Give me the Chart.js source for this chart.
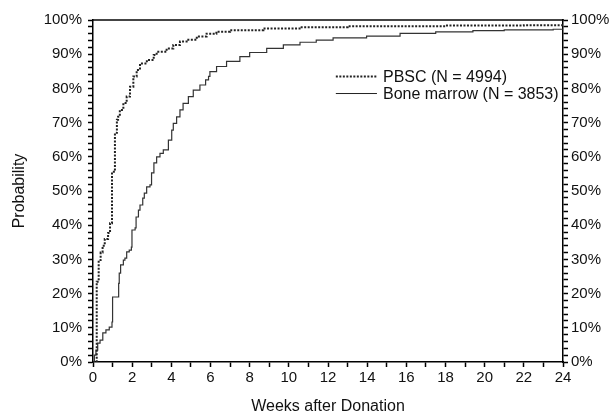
<!DOCTYPE html>
<html>
<head>
<meta charset="utf-8">
<script src="https://cdn.jsdelivr.net/npm/chart.js@4/dist/chart.umd.min.js"></script>
<style>
    html, body { margin: 0; padding: 0; background: #fff; }
    #wrap { width: 614px; height: 417px; }
</style>
</head>
<body>
<div id="wrap"><canvas id="probChart" width="614" height="417"></canvas></div>
<script>
// step points: week where the curve jumps, and the new level (%)
const pbscWeeks = [0, 0.19, 0.29, 0.39, 0.49, 0.6, 0.77, 0.87, 0.97, 1.12, 1.22, 1.28, 1.37, 1.55, 1.72, 1.89,
    2.06, 2.23, 2.4, 2.75, 3.1, 3.25, 3.76, 4.1, 4.44, 4.78, 5.3, 5.8, 6.3, 7.0, 8.7, 10.6, 13.0, 18.0, 22.0, 24];
const pbscPct = [0, 23.5, 29.8, 32, 34, 36, 37.7, 40.6, 55.6, 67, 70.8, 71.7, 73.7, 75.7, 77.6, 80.5,
    83.5, 85.4, 87.3, 88.3, 89.8, 90.7, 91.7, 92.7, 93.7, 94.2, 95.2, 96, 96.6, 97.0, 97.5, 97.9, 98.2, 98.4, 98.5, 98.5];

const marrowWeeks = [0, 0.07, 0.15, 0.24, 0.36, 0.5, 0.66, 0.83, 0.97, 1.0, 1.31, 1.34, 1.41, 1.55, 1.63, 1.72, 1.85,
    1.96, 1.99, 2.15, 2.2, 2.32, 2.4, 2.54, 2.62, 2.74, 2.91, 2.99, 3.11, 3.25, 3.42, 3.59, 3.85, 4.02, 4.1,
    4.27, 4.44, 4.6, 4.87, 5.12, 5.46, 5.75, 5.9, 5.97, 6.31, 6.82, 7.5, 8.0, 8.87, 9.72, 10.57, 11.4, 12.26,
    13.97, 15.68, 17.5, 19.4, 21.0, 23.5, 24];
const marrowPct = [0, 2, 3.5, 5.5, 6.4, 8.5, 9.4, 10.2, 11.7, 19, 23, 26, 28.4, 29.8, 30.4, 32.2, 32.7,
    33.6, 38.6, 39.2, 42.4, 44.4, 45.9, 47.9, 49.4, 51.2, 51.8, 55.3, 58.2, 60, 61, 62, 64.9, 67.8, 69.8,
    71.7, 73.7, 75.6, 77.6, 79.5, 81, 82.5, 83.5, 84.9, 86.4, 87.9, 89.3, 90.5, 91.7, 92.7, 93.5, 94.1, 94.8,
    95.3, 96.1, 96.5, 96.9, 97.1, 97.3, 97.3];

const seriesNames = ['PBSC (N = 4994)', 'Bone marrow (N = 3853)'];
const xTitle = 'Weeks after Donation';
const yTitle = 'Probability';

const FONT = "'Liberation Sans', Arial, sans-serif";
const pbscDash = [2, 1.5];

function toPoints(xs, ys) {
    return xs.map((x, i) => ({ x: x, y: ys[i] }));
}

// legend drawn inside the plot area
const innerLegend = {
    id: 'innerLegend',
    afterDraw(chart) {
        const ctx = chart.ctx;
        const xs = chart.scales.x;
        const ys = chart.scales.y;
        const x0 = xs.getPixelForValue(12.4);
        const x1 = xs.getPixelForValue(14.5);
        const rows = [ys.getPixelForValue(83.5), ys.getPixelForValue(78.5)];
        ctx.save();
        ctx.font = '16px ' + FONT;
        ctx.fillStyle = '#111';
        ctx.textBaseline = 'middle';
        rows.forEach((y, i) => {
            ctx.beginPath();
            ctx.strokeStyle = '#222';
            if (i === 0) { ctx.lineWidth = 2; ctx.setLineDash(pbscDash); }
            else { ctx.lineWidth = 1; ctx.setLineDash([]); }
            ctx.moveTo(x0, y);
            ctx.lineTo(x1, y);
            ctx.stroke();
            ctx.fillText(seriesNames[i], x1 + 6, y + 1);
        });
        ctx.restore();
    }
};

const tickLabel = v => (v % 10 === 0 ? v + '%' : '');

var ctx = document.getElementById('probChart');
const probChart = new Chart(ctx, {
    type: 'line',
    data: {
        datasets: [
            {
                label: seriesNames[0],
                data: toPoints(pbscWeeks, pbscPct),
                stepped: true,
                borderColor: '#222',
                borderWidth: 2,
                borderDash: pbscDash,
                pointRadius: 0,
                fill: false
            },
            {
                label: seriesNames[1],
                data: toPoints(marrowWeeks, marrowPct),
                stepped: true,
                borderColor: '#333',
                borderWidth: 1.2,
                pointRadius: 0,
                fill: false
            }
        ]
    },
    options: {
        responsive: false,
        animation: false,
        layout: { padding: 0 },
        plugins: {
            legend: { display: false },
            tooltip: { enabled: false }
        },
        scales: {
            x: {
                type: 'linear',
                position: 'bottom',
                min: 0, max: 24,
                afterFit: s => { s.height = 55; },
                ticks: {
                    stepSize: 1,
                    autoSkip: false,
                    maxRotation: 0,
                    padding: 2,
                    color: '#111',
                    font: { family: FONT, size: 15 },
                    callback: v => (v % 2 === 0 ? v : '')
                },
                grid: { drawOnChartArea: false, drawTicks: true, tickLength: 5, tickColor: '#000', tickWidth: 1.5 },
                border: { display: true, color: '#000', width: 1.5 },
                title: {
                    display: true, text: xTitle, color: '#111',
                    font: { family: FONT, size: 16 },
                    padding: { top: 4, bottom: 1 }
                }
            },
            x2: {
                type: 'linear',
                position: 'top',
                min: 0, max: 24,
                afterFit: s => { s.height = 20; },
                ticks: { display: false },
                grid: { display: false },
                border: { display: true, color: '#444', width: 2 }
            },
            y: {
                type: 'linear',
                position: 'left',
                min: 0, max: 100,
                afterFit: s => { s.width = 93; },
                ticks: {
                    stepSize: 2,
                    autoSkip: false,
                    padding: 6,
                    color: '#111',
                    font: { family: FONT, size: 15 },
                    callback: tickLabel
                },
                grid: { drawOnChartArea: false, drawTicks: true, tickLength: 5, tickColor: '#000', tickWidth: 1.5 },
                border: { display: true, color: '#000', width: 1.5 },
                title: {
                    display: true, text: yTitle, color: '#111',
                    font: { family: FONT, size: 16 },
                    padding: { top: 10, bottom: 0 }
                }
            },
            y2: {
                type: 'linear',
                position: 'right',
                display: true,
                min: 0, max: 100,
                afterFit: s => { s.width = 51; },
                ticks: {
                    stepSize: 2,
                    autoSkip: false,
                    padding: 3,
                    color: '#111',
                    font: { family: FONT, size: 15 },
                    callback: tickLabel
                },
                grid: { drawOnChartArea: false, drawTicks: true, tickLength: 5, tickColor: '#000', tickWidth: 1.5 },
                border: { display: true, color: '#000', width: 1.5 }
            }
        }
    },
    plugins: [innerLegend]
});
</script>
</body>
</html>
